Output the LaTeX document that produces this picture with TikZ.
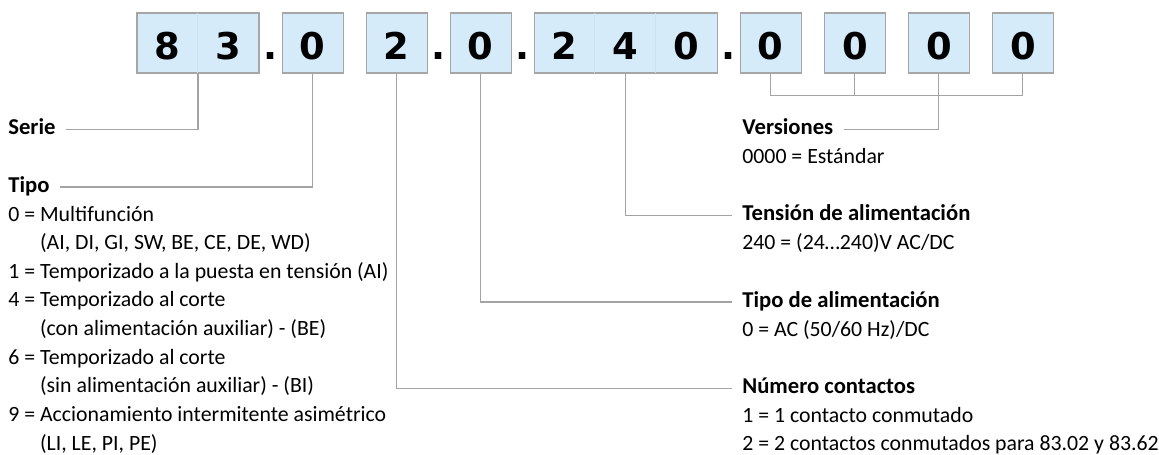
\documentclass[tikz,border=0pt]{standalone}
\usepackage{fontspec}
\setmainfont{Carlito}
\newfontfamily\digitfont{DejaVu Sans}
\usetikzlibrary{positioning,calc}
\definecolor{CodeFill}{HTML}{D6EBFA}
\definecolor{CodeEdge}{HTML}{A6A6A6}
\definecolor{CodeCell}{HTML}{CEE2F0}
\definecolor{LeadGray}{HTML}{A3A3A3}
\newcommand{\cellw}{1.22cm}
\newcommand{\cd}[1]{\makebox[\cellw]{#1}}

\begin{document}
\begin{tikzpicture}[
    code/.style={
      draw=CodeEdge,
      fill=CodeFill,
      line width=0.6pt,
      minimum width=#1,
      minimum height=1.2cm,
      inner sep=0pt,
      text height=0.64cm,
      text depth=0pt,
      font=\digitfont\bfseries\fontsize{21}{21}\selectfont
    },
    code/.default=1.22cm,
    sep/.style={
      inner sep=0pt,
      anchor=base,
      font=\digitfont\bfseries\fontsize{21}{21}\selectfont
    },
    lead/.style={
      draw=LeadGray,
      line width=0.6pt
    },
    cell/.style={
      draw=CodeCell,
      line width=0.5pt
    },
    head/.style={
      anchor=base west,
      font=\bfseries\fontsize{12.9}{16.3}\selectfont,
      inner xsep=0.2cm,
      inner ysep=0pt,
      text height=0.3cm,
      text depth=0.1cm
    },
    desc/.style={
      anchor=north west,
      font=\fontsize{12.4}{16.3}\selectfont,
      align=left,
      inner sep=0pt
    }
  ]
  \useasboundingbox (0,0) rectangle (23.18,-9.08);

  % Code boxes
  \node[code=2.44cm] (b1) at (3.96,-0.86) {\cd{8}\cd{3}};
  \node[code, right=0.44cm of b1] (b2) {0};
  \node[code, right=0.44cm of b2] (b3) {2};
  \node[code, right=0.44cm of b3] (b4) {0};
  \node[code=3.66cm, right=0.44cm of b4] (b5) {\cd{2}\cd{4}\cd{0}};
  \node[code, right=0.44cm of b5] (b6) {0};
  \node[code, right=0.44cm of b6] (b7) {0};
  \node[code, right=0.44cm of b7] (b8) {0};
  \node[code, right=0.44cm of b8] (b9) {0};
  \foreach \b/\n in {b1/1, b5/1, b5/2}
    \draw[cell] ($(\b.north west)+(\n*1.22,-0.02)$) -- ($(\b.south west)+(\n*1.22,0.02)$);

  % Dots
  \node[sep] (d1) at ($(b1.base east)!0.5!(b2.base west)$) {.};
  \node[sep] (d2) at ($(b3.base east)!0.5!(b4.base west)$) {.};
  \node[sep] (d3) at ($(b4.base east)!0.5!(b5.base west)$) {.};
  \node[sep] (d4) at ($(b5.base east)!0.5!(b6.base west)$) {.};

  % Left side
  \node[head] (serie) at (-0.04,-2.69) {Serie};
  \node[head] (tipo) at (-0.04,-3.84) {Tipo};
  \node[desc] (tipodesc) at (0.16,-4.0125) {\strut 0 = Multifunción\\
    \hphantom{0 =\ }(AI, DI, GI, SW, BE, CE, DE, WD)\\
    1 = Temporizado a la puesta en tensión (AI)\\
    4 = Temporizado al corte\\
    \hphantom{4 =\ }(con alimentación auxiliar) - (BE)\\
    6 = Temporizado al corte\\
    \hphantom{6 =\ }(sin alimentación auxiliar) - (BI)\\
    9 = Accionamiento intermitente asimétrico\\
    \hphantom{9 =\ }(LI, LE, PI, PE)};

  % Right side
  \node[head] (version) at (14.64,-2.69) {Versiones};
  \node[desc] (versiondesc) at (14.84,-2.8625) {\strut 0000 = Estándar};
  \node[head] (tension) at (14.64,-4.415) {Tensión de alimentación};
  \node[desc] (tensiondesc) at (14.84,-4.5875) {\strut 240 = (24…240)V AC/DC};
  \node[head] (alim) at (14.64,-6.14) {Tipo de alimentación};
  \node[desc] (alimdesc) at (14.84,-6.3125) {\strut 0 = AC (50/60 Hz)/DC};
  \node[head] (contactos) at (14.64,-7.865) {Número contactos};
  \node[desc] (contactosdesc) at (14.84,-8.0375) {\strut 1 = 1 contacto conmutado\\
    2 = 2 contactos conmutados para 83.02 y 83.62};

  % Leader lines
  \draw[lead] (b1.south) |- (serie.east);
  \draw[lead] (b2.south) |- (tipo.east);
  \draw[lead] (b3.south) |- (contactos.west);
  \draw[lead] (b4.south) |- (alim.west);
  \draw[lead] (b5.south) |- (tension.west);
  \coordinate (brk) at ($(b6.south)+(0,-0.44)$);
  \draw[lead] (b6.south) -- (brk) -| (b9.south);
  \draw[lead] (b7.south) -- (b7.south |- brk);
  \draw[lead] (b8.south) |- (version.east);
\end{tikzpicture}
\end{document}
